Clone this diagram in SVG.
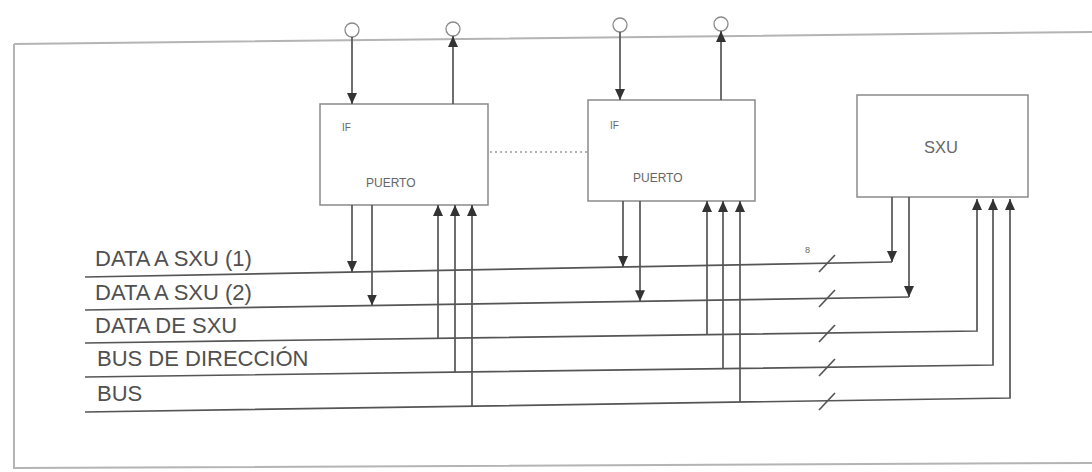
<svg xmlns="http://www.w3.org/2000/svg" width="1092" height="472" viewBox="0 0 1092 472">
<style>
.frame{fill:none;stroke:#b4b4b4;stroke-width:2}
.box{fill:#fff;stroke:#8a8a8a;stroke-width:1.5}
.ln{fill:none;stroke:#555;stroke-width:1.7}
.arr{fill:none;stroke:#555;stroke-width:1.7;marker-end:url(#ah)}
.circ{fill:#fff;stroke:#8a8a8a;stroke-width:1.3}
.lbl{font-family:"Liberation Sans",Arial,sans-serif;fill:#505050;font-size:22px}
.small{font-family:"Liberation Sans",Arial,sans-serif;fill:#666}
.dot{stroke:#999;stroke-width:1.3;stroke-dasharray:2 3}
</style>
<defs>
<marker id="ah" markerUnits="userSpaceOnUse" markerWidth="12" markerHeight="12" viewBox="0 0 12 12" refX="11" refY="6" orient="auto">
<path d="M0,1 L11,6 L0,11 Z" fill="#333"/>
</marker>
</defs>
<g id="frame">
<path class="frame" d="M14,44 L1092,32 M14,44 L14,468 L1092,463"/>
</g>
<g id="ports-top">
<circle class="circ" cx="352" cy="30" r="7"/>
<circle class="circ" cx="453" cy="29" r="7"/>
<circle class="circ" cx="620" cy="25" r="7"/>
<circle class="circ" cx="721" cy="24" r="7"/>
</g>
<g id="puerto1">
<rect class="box" x="320" y="104" width="168" height="101"/>
<text class="small" x="342" y="131" font-size="10">IF</text>
<text class="small" x="366" y="187" font-size="12">PUERTO</text>
</g>
<g id="puerto2">
<rect class="box" x="588" y="100" width="167" height="101"/>
<text class="small" x="610" y="129" font-size="10">IF</text>
<text class="small" x="633" y="182" font-size="12">PUERTO</text>
</g>
<g id="sxu">
<rect class="box" x="857" y="95" width="171" height="102"/>
<text class="small" x="941" y="153" font-size="16.5" text-anchor="middle">SXU</text>
</g>
<g id="labels">
<text class="lbl" x="95" y="266">DATA A SXU (1)</text>
<text class="lbl" x="95" y="300">DATA A SXU (2)</text>
<text class="lbl" x="95" y="333">DATA DE SXU</text>
<text class="lbl" x="97" y="366">BUS DE DIRECCIÓN</text>
<text class="lbl" x="97" y="401">BUS</text>
<text class="small" x="805" y="253" font-size="9">8</text>
</g>
<g id="connectors">
<line class="dot" x1="490" y1="152" x2="587" y2="152"/>
<line class="arr" x1="352" y1="37" x2="352" y2="104"/>
<line class="arr" x1="453" y1="104" x2="453" y2="36"/>
<line class="arr" x1="620" y1="32" x2="620" y2="100"/>
<line class="arr" x1="721" y1="100" x2="721" y2="31"/>
<polyline class="ln" points="85,277 892,262"/>
<polyline class="ln" points="85,310 909,297"/>
<polyline class="arr" points="85,343 977,331 977,199"/>
<polyline class="arr" points="85,377 993,365 993,199"/>
<polyline class="arr" points="85,412 1010,398 1010,199"/>
<line class="arr" x1="892" y1="197" x2="892" y2="262"/>
<line class="arr" x1="909" y1="197" x2="909" y2="297"/>
<line class="arr" x1="352" y1="205" x2="352" y2="272"/>
<line class="arr" x1="372" y1="205" x2="372" y2="305.5"/>
<line class="arr" x1="438" y1="338.3" x2="438" y2="205"/>
<line class="arr" x1="455" y1="372.1" x2="455" y2="205"/>
<line class="arr" x1="472" y1="406.1" x2="472" y2="205"/>
<line class="arr" x1="623" y1="201" x2="623" y2="267"/>
<line class="arr" x1="640" y1="201" x2="640" y2="301.2"/>
<line class="arr" x1="707" y1="334.6" x2="707" y2="201"/>
<line class="arr" x1="723" y1="368.6" x2="723" y2="201"/>
<line class="arr" x1="740" y1="402.1" x2="740" y2="201"/>
<line class="ln" x1="819" y1="272" x2="835" y2="255"/>
<line class="ln" x1="819" y1="307" x2="835" y2="290"/>
<line class="ln" x1="819" y1="342" x2="835" y2="325"/>
<line class="ln" x1="819" y1="376" x2="835" y2="359"/>
<line class="ln" x1="819" y1="410" x2="835" y2="393"/>
</g>
</svg>
